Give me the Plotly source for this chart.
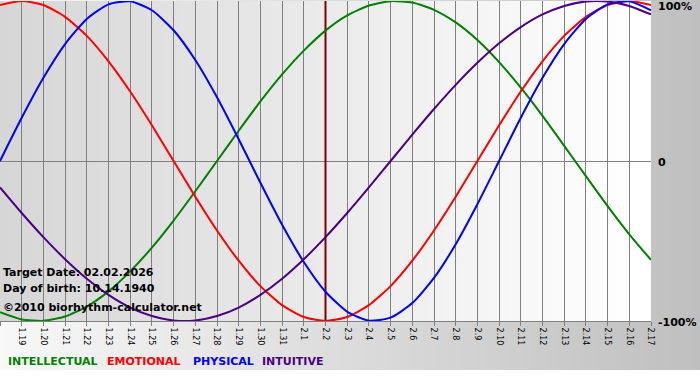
import plotly.graph_objects as go

# ---------------- data ----------------
dates = ['1.18', '1.19', '1.20', '1.21', '1.22', '1.23', '1.24', '1.25', '1.26', '1.27',
         '1.28', '1.29', '1.30', '1.31', '2.1', '2.2', '2.3', '2.4', '2.5', '2.6',
         '2.7', '2.8', '2.9', '2.10', '2.11', '2.12', '2.13', '2.14', '2.15', '2.16', '2.17']
intellectual = [-0.945, -0.990, -0.999, -0.972, -0.910, -0.815, -0.690, -0.541, -0.372, -0.189,
                0.0, 0.189, 0.372, 0.541, 0.690, 0.815, 0.910, 0.972, 0.999, 0.990,
                0.945, 0.866, 0.756, 0.618, 0.458, 0.282, 0.095, -0.095, -0.282, -0.458, -0.618]
emotional = [0.975, 1.0, 0.975, 0.901, 0.782, 0.623, 0.434, 0.223, 0.0, -0.223,
             -0.434, -0.623, -0.782, -0.901, -0.975, -1.0, -0.975, -0.901, -0.782, -0.623,
             -0.434, -0.223, 0.0, 0.223, 0.434, 0.623, 0.782, 0.901, 0.975, 1.0, 0.975]
physical = [0.0, 0.270, 0.520, 0.731, 0.888, 0.979, 0.998, 0.942, 0.817, 0.631,
            0.398, 0.136, -0.136, -0.398, -0.631, -0.817, -0.942, -0.998, -0.979, -0.888,
            -0.731, -0.520, -0.270, 0.0, 0.270, 0.520, 0.731, 0.888, 0.979, 0.998, 0.942]
intuitive = [-0.165, -0.325, -0.476, -0.614, -0.736, -0.837, -0.916, -0.969, -0.997, -0.997,
             -0.969, -0.916, -0.837, -0.736, -0.614, -0.476, -0.325, -0.165, 0.0, 0.165,
             0.325, 0.476, 0.614, 0.736, 0.837, 0.916, 0.969, 0.997, 0.997, 0.969, 0.916]
series_names = ['INTELLECTUAL', 'EMOTIONAL', 'PHYSICAL', 'INTUITIVE']
target_label = '2.2'
y_tick_labels = ['100%', '0', '-100%']
info_lines = ['Target Date: 02.02.2026', 'Day of birth: 10.14.1940', '\u00a92010 biorhythm-calculator.net']

# ---------------- layout geometry ----------------
W, H = 700, 380
ML, MR, MT, MB = 0, 49, 1, 59
PW = W - ML - MR
PH = H - MT - MB

def px_x(px):
    return (px - ML) / PW

def px_y(py):
    return (H - MB - py) / PH

colors = ['#008000', '#ff0000', '#0000ff', '#4b0082']
x = list(range(len(dates)))

fig = go.Figure()
# target date line (as a trace so it sits above the grid, below the curves)
ti = dates.index(target_label)
fig.add_trace(go.Scatter(x=[ti, ti], y=[-1, 1], mode='lines',
                         line=dict(color='#800000', width=2),
                         hoverinfo='skip', showlegend=False, cliponaxis=False))
for name, vals, col in zip(series_names, [intellectual, emotional, physical, intuitive], colors):
    fig.add_trace(go.Scatter(x=x, y=vals, mode='lines', name=name,
                             line=dict(color=col, width=2, shape='spline', smoothing=0.6),
                             hoverinfo='skip', showlegend=False))

shapes = []
# outer gradient (white-ish left -> gray right)
step = 3
for sx in range(0, W, step):
    t = (sx + step / 2) / W
    g = int(round(248 + (191 - 248) * t))
    shapes.append(dict(type='rect', xref='paper', yref='paper',
                       x0=px_x(sx), x1=px_x(sx + step), y0=px_y(370), y1=px_y(-1),
                       fillcolor=f'rgb({g},{g},{g})', line=dict(width=0), layer='below'))
# plot area gradient (gray left -> white right)
for sx in range(0, PW, step):
    t = (sx + step / 2) / PW
    g = int(round(214 + (255 - 214) * min(1, t * 1.02)))
    shapes.append(dict(type='rect', xref='paper', yref='paper',
                       x0=px_x(sx), x1=px_x(min(sx + step, PW)), y0=0, y1=1,
                       fillcolor=f'rgb({g},{g},{g})', line=dict(width=0), layer='below'))

annotations = []
font_b = 'DejaVu Sans'
# right-hand labels
for lbl, py in zip(y_tick_labels, [6.5, 162, 322]):
    annotations.append(dict(text=f'<b>{lbl}</b>', xref='paper', yref='paper',
                            x=px_x(656), y=px_y(py), xanchor='left', yanchor='middle',
                            showarrow=False, font=dict(family=font_b, size=11, color='#000000')))
# info text
for txt, py in zip(info_lines, [272, 288, 307.5]):
    annotations.append(dict(text=f'<b>{txt}</b>', xref='paper', yref='paper',
                            x=px_x(1), y=px_y(py), xanchor='left', yanchor='middle',
                            showarrow=False, font=dict(family=font_b, size=11, color='#000000')))
# legend texts
for name, col, lx in zip(series_names, colors, [6, 105, 191, 260]):
    annotations.append(dict(text=f'<b>{name}</b>', xref='paper', yref='paper',
                            x=px_x(lx), y=px_y(361), xanchor='left', yanchor='middle',
                            showarrow=False, font=dict(family=font_b, size=11, color=col)))

fig.update_layout(
    width=W, height=H, autosize=False,
    margin=dict(l=ML, r=MR, t=MT, b=MB, pad=0, autoexpand=False),
    paper_bgcolor='#ffffff', plot_bgcolor='rgba(0,0,0,0)',
    shapes=shapes, annotations=annotations, showlegend=False,
    xaxis=dict(range=[0, len(dates) - 1], tickmode='array', tickvals=x, ticktext=dates,
               tickangle=90, ticks='outside', ticklen=4, tickcolor='#808080',
               showgrid=True, gridcolor='#808080', gridwidth=1,
               showline=True, linecolor='#808080', linewidth=1,
               zeroline=False, fixedrange=True, automargin=False,
               tickfont=dict(family='DejaVu Sans', size=8, color='#000000')),
    yaxis=dict(range=[-1, 1], tickmode='array', tickvals=[-1, 0, 1], showticklabels=False,
               showgrid=True, gridcolor='#808080', gridwidth=1, zeroline=False,
               ticks='', fixedrange=True, automargin=False),
)

fig.write_html('out.html', config={'displayModeBar': False},
               post_script="document.body.style.margin='0';document.body.style.overflow='hidden';")
